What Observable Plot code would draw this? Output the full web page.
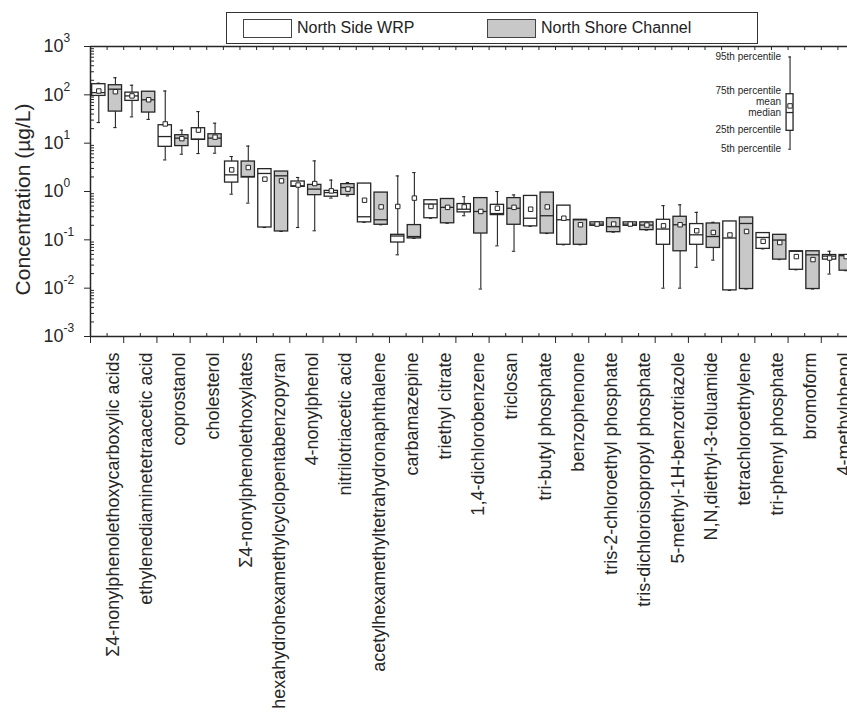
<!DOCTYPE html>
<html><head><meta charset="utf-8">
<script src="https://cdn.jsdelivr.net/npm/d3@7"></script>
<script src="https://cdn.jsdelivr.net/npm/@observablehq/plot@0.6"></script>
<style>
body{margin:0;background:#fff;overflow:hidden;font-family:"Liberation Sans",Arial,sans-serif;}
#wrap{position:relative;width:847px;height:718px;overflow:hidden;}
#legend{position:absolute;left:226px;top:12px;width:530px;height:30px;border:1.5px solid #333;background:#fff;z-index:2;}
.sw{position:absolute;top:6px;width:47px;height:17px;border:1px solid #444;}
.lt{position:absolute;top:5px;font-size:16px;color:#222;white-space:nowrap;line-height:20px;}
</style></head>
<body><div id="wrap">
<div id="legend">
  <div class="sw" style="left:16px;background:#fff"></div><div class="lt" style="left:70px">North Side WRP</div>
  <div class="sw" style="left:260px;background:#c8c8c8"></div><div class="lt" style="left:314px">North Shore Channel</div>
</div>
<div id="chart"></div>
</div>
<script>
const categories = ["Σ4-nonylphenolethoxycarboxylic acids","ethylenediaminetetraacetic acid","coprostanol","cholesterol","Σ4-nonylphenolethoxylates","hexahydrohexamethylcyclopentabenzopyran","4-nonylphenol","nitrilotriacetic acid","acetylhexamethyltetrahydronaphthalene","carbamazepine","triethyl citrate","1,4-dichlorobenzene","triclosan","tri-butyl phosphate","benzophenone","tris-2-chloroethyl phosphate","tris-dichloroisopropyl phosphate","5-methyl-1H-benzotriazole","N,N,diethyl-3-toluamide","tetrachloroethylene","tri-phenyl phosphate","bromoform","4-methylphenol"];
const stations = ["North Side WRP","North Shore Channel"];

// North Side WRP
const nswrpP5     = [26.7,35,4.5,6.1,0.88,0.18,0.18,0.73,0.23,0.049,0.28,0.315,0.075,0.19,0.079,0.195,0.195,0.01,0.027,0.009,0.065,0.024,0.0196];
const nswrpP25    = [95,75,8.4,11.7,1.53,0.18,1.25,0.78,0.23,0.088,0.28,0.37,0.325,0.19,0.079,0.195,0.195,0.079,0.079,0.009,0.065,0.024,0.039];
const nswrpMedian = [111,95,13.7,12.1,2.21,2.36,1.31,0.95,0.30,0.12,0.55,0.43,0.35,0.28,0.26,0.212,0.212,0.167,0.127,0.109,0.112,0.058,0.046];
const nswrpMean   = [120,95,25,18.6,2.8,1.80,1.36,1.03,0.66,0.49,0.49,0.48,0.45,0.43,0.28,0.212,0.212,0.195,0.154,0.126,0.093,0.045,0.042];
const nswrpP75    = [166,111,23.5,20.4,4.17,2.9,1.61,1.03,1.46,0.127,0.66,0.55,0.53,0.81,0.51,0.23,0.23,0.26,0.212,0.24,0.138,0.058,0.0485];
const nswrpP95    = [174,158,120,45,5.3,2.9,1.95,1.72,1.46,2.1,0.66,0.78,1.0,0.81,0.51,0.23,0.23,0.51,0.37,0.24,0.138,0.058,0.058];
// North Shore Channel
const nscP5     = [21,31,5.9,6.2,0.575,0.149,0.154,0.81,0.205,0.107,0.22,0.0096,0.058,0.135,0.079,0.144,0.159,0.01,0.038,0.0096,0.039,0.0096,0.023];
const nscP25    = [45,43,8.7,8.4,1.95,0.149,0.84,0.85,0.205,0.107,0.22,0.135,0.205,0.135,0.079,0.144,0.159,0.058,0.068,0.0096,0.039,0.0096,0.023];
const nscMedian = [131,79,12.7,12.7,2.04,2.11,1.12,1.21,0.26,0.117,0.47,0.386,0.45,0.315,0.26,0.187,0.202,0.205,0.117,0.218,0.099,0.049,0.047];
const nscMean   = [116,79,12.4,13.3,3.13,1.66,1.46,1.12,0.48,0.73,0.47,0.386,0.47,0.48,0.205,0.212,0.202,0.205,0.142,0.149,0.088,0.039,0.045];
const nscP75    = [158,116,14.6,15.3,4.17,2.59,1.37,1.42,0.95,0.202,0.70,0.73,0.73,0.95,0.26,0.28,0.23,0.30,0.218,0.29,0.127,0.058,0.0485];
const nscP95    = [226,116,18.6,25.9,8.7,2.59,4.3,1.53,0.95,2.47,0.70,0.73,0.85,0.95,0.26,0.28,0.23,0.53,0.23,0.29,0.127,0.058,0.0485];

// percentile key
const keyLabels = ["95th percentile","75th percentile","mean","median","25th percentile","5th percentile"];
const keyLabelValues = [607,122,71,42.5,18.6,7.5];
const keyBox = {p5:7.5, p25:18, median:43, mean:59, p75:103, p95:607};
const keyPos = 20.56;

const yTicks = [1e-3,1e-2,1e-1,1,10,100,1000];
const yMinor = [];
for (let e = -3; e < 3; e++) for (let m = 2; m <= 9; m++) yMinor.push(m * Math.pow(10, e));

const series = [
  [nswrpP5,nswrpP25,nswrpMedian,nswrpMean,nswrpP75,nswrpP95],
  [nscP5,nscP25,nscMedian,nscMean,nscP75,nscP95]
];
const rows = [];
categories.forEach((c, i) => {
  series.forEach((s, k) => {
    rows.push({i, k, station: stations[k], x: i + (k ? 0.25 : -0.25),
      p5: s[0][i], p25: s[1][i], median: s[2][i], mean: s[3][i], p75: s[4][i], p95: s[5][i]});
  });
});
const keyRows = [{x: keyPos, k: 0, ...keyBox}];

const idx = categories.map((c, i) => i);
const bounds = d3.range(-0.5, categories.length, 1);
const halves = d3.range(-0.5, categories.length + 0.5, 0.5);
const hw = 0.2, cw = 0.05;
const ink = "#262626";

function boxMarks(data, w, c) {
  return [
    Plot.ruleX(data, {x: "x", y1: "p5", y2: "p95", stroke: ink, strokeWidth: 1.1}),
    Plot.ruleY(data, {y: "p5", x1: d => d.x - c, x2: d => d.x + c, stroke: ink, strokeWidth: 1.1}),
    Plot.ruleY(data, {y: "p95", x1: d => d.x - c, x2: d => d.x + c, stroke: ink, strokeWidth: 1.1}),
    Plot.rect(data, {x1: d => d.x - w, x2: d => d.x + w, y1: "p25", y2: "p75",
      fill: d => d.k ? "#c8c8c8" : "#ffffff", stroke: ink, strokeWidth: 1.3}),
    Plot.ruleY(data, {y: "median", x1: d => d.x - w, x2: d => d.x + w, stroke: ink, strokeWidth: 1.3}),
    Plot.dot(data, {x: "x", y: "mean", symbol: "square", r: 2.5, fill: "#fff", stroke: ink, strokeWidth: 1})
  ];
}

const chart = Plot.plot({
  width: 847, height: 718,
  marginTop: 46, marginBottom: 382, marginLeft: 90, marginRight: 0,
  style: {fontFamily: "'Liberation Sans', Arial, sans-serif", background: "#fff", color: ink},
  x: {type: "linear", domain: [-0.5, categories.length - 0.5], range: [90, 854]},
  y: {type: "log", domain: [1e-3, 1e3]},
  marks: [
    ...boxMarks(rows, hw, cw),
    ...boxMarks(keyRows, 0.105, 0.04),
    Plot.text(keyLabels, {x: keyPos, y: (d, j) => keyLabelValues[j], text: d => d, textAnchor: "end", dx: -9, fontSize: 10, fill: ink}),
    Plot.ruleY([1e-3, 1e3], {stroke: ink, strokeWidth: 1.5}),
    Plot.ruleX([-0.5], {stroke: ink, strokeWidth: 1.5}),
    Plot.axisY({ticks: yTicks, tickSize: 6, tickFormat: () => "", label: null}),
    Plot.axisY({ticks: yMinor, tickSize: 4, dx: 4, tickFormat: () => "", label: null}),
    Plot.text(yTicks, {frameAnchor: "left", y: d => d, text: () => "10", textAnchor: "end", dx: -27, fontSize: 18, fill: ink}),
    Plot.text(yTicks, {frameAnchor: "left", y: d => d, text: d => String(Math.round(Math.log10(d))), textAnchor: "start", dx: -27, dy: -8, fontSize: 12, fill: ink}),
    Plot.text(["Concentration (µg/L)"], {frameAnchor: "left", text: d => d, rotate: -90, textAnchor: "middle", dx: -67, dy: 8, fontSize: 21, fill: ink}),
    Plot.axisX({anchor: "bottom", ticks: bounds, tickSize: 7, tickFormat: () => "", label: null}),
    Plot.axisX({anchor: "bottom", ticks: idx, tickSize: 3, dy: -3, tickFormat: () => "", label: null}),
    Plot.axisX({anchor: "bottom", ticks: idx, tickSize: 0, tickPadding: 16, tickRotate: -90, tickFormat: i => categories[i], fontSize: 18, dx: 6, label: null}),
    Plot.axisX({anchor: "top", ticks: halves, tickSize: 3, dy: 3, tickFormat: () => "", label: null})
  ]
});
document.getElementById("chart").appendChild(chart);
</script>
</body></html>
